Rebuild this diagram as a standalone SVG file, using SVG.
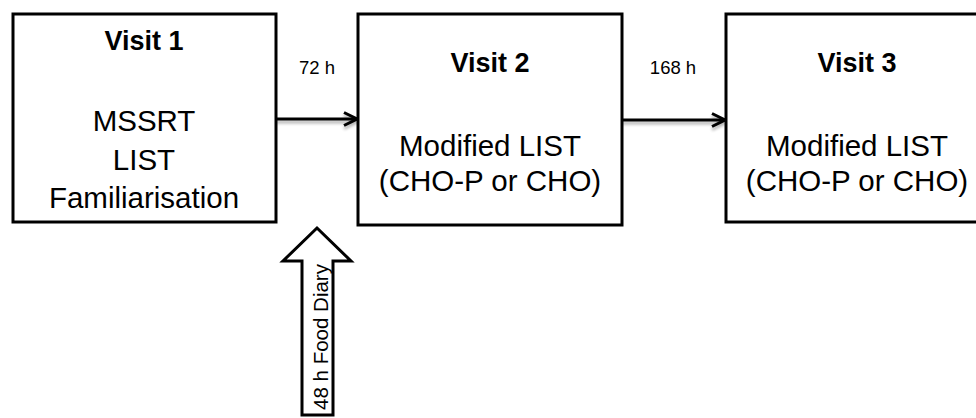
<svg xmlns="http://www.w3.org/2000/svg" width="976" height="418" viewBox="0 0 976 418">
<style>
.box{fill:#fff;stroke:#000;stroke-width:3}
.t{font-family:"Liberation Sans",Arial,sans-serif;fill:#000;text-anchor:middle}
.title{font-size:27px;font-weight:bold}
.body{font-size:29.5px}
.lbl{font-size:18.5px}
.conn{stroke:#000;stroke-width:3;fill:none}
.block{fill:#fff;stroke:#000;stroke-width:3;stroke-linejoin:miter}
</style>
<defs>
<marker id="chev" viewBox="0 0 16 16" refX="14" refY="8" markerWidth="16" markerHeight="16" markerUnits="userSpaceOnUse" orient="auto">
<path d="M1,1.5 L14,8 L1,14.5" fill="none" stroke="#000" stroke-width="3" stroke-linejoin="miter"/>
</marker>
<filter id="sh" filterUnits="userSpaceOnUse" x="0" y="0" width="976" height="418">
<feGaussianBlur in="SourceAlpha" stdDeviation="1.5"/>
<feOffset dx="0" dy="3" result="b"/>
<feComponentTransfer><feFuncA type="linear" slope="0.3"/></feComponentTransfer>
<feMerge><feMergeNode/><feMergeNode in="SourceGraphic"/></feMerge>
</filter>
</defs>
<rect width="976" height="418" fill="#fff"/>
<g id="connectors">
<line class="conn" x1="276" y1="119" x2="357" y2="119" marker-end="url(#chev)" filter="url(#sh)"/>
<line class="conn" x1="622" y1="120" x2="725" y2="120" marker-end="url(#chev)" filter="url(#sh)"/>
<text class="t lbl" x="317" y="74">72 h</text>
<text class="t lbl" x="673" y="74">168 h</text>
</g>
<g id="visit1">
<rect class="box" x="13" y="14" width="263" height="208"/>
<text class="t title" x="144" y="50">Visit 1</text>
<text class="t body" x="144" y="131">MSSRT</text>
<text class="t body" x="144" y="170">LIST</text>
<text class="t body" x="144" y="208">Familiarisation</text>
</g>
<g id="visit2">
<rect class="box" x="358" y="14" width="264" height="211"/>
<text class="t title" x="490" y="72">Visit 2</text>
<text class="t body" x="490" y="156">Modified LIST</text>
<text class="t body" x="490" y="191">(CHO-P or CHO)</text>
</g>
<g id="visit3">
<rect class="box" x="726" y="14" width="263" height="208"/>
<text class="t title" x="857" y="72">Visit 3</text>
<text class="t body" x="857" y="156">Modified LIST</text>
<text class="t body" x="857" y="191">(CHO-P or CHO)</text>
</g>
<g id="food-diary">
<polygon class="block" points="317,228 351,261 333,261 333,415 302,415 302,261 283,261"/>
<text class="t" font-size="20.5" transform="translate(328,337) rotate(-90)">48 h Food Diary</text>
</g>
</svg>
